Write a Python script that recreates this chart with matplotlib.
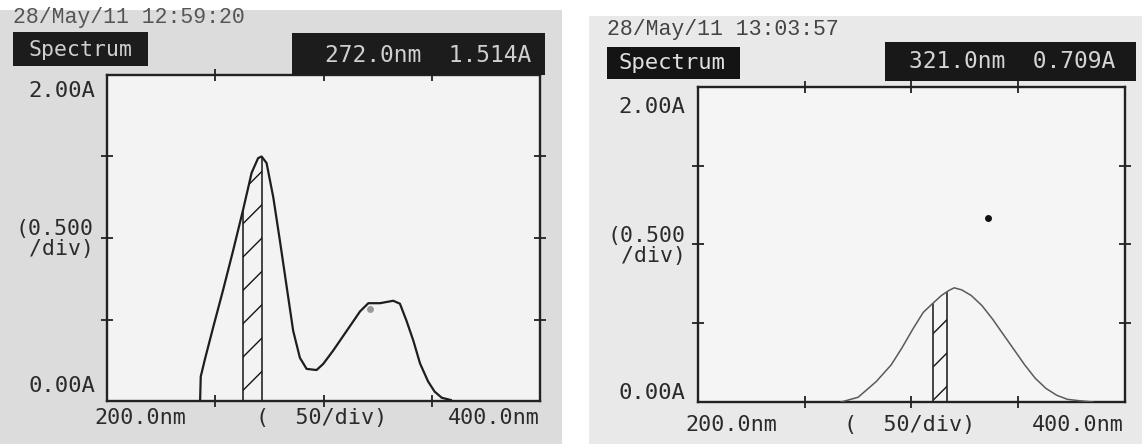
import numpy as np
import matplotlib.pyplot as plt
from matplotlib.patches import Rectangle

# size of the picture in pixels
W, H = 1142, 444

# spectrum 1 (left screen)
left_nm = [243, 243.3, 245.3, 249, 253.6, 258.2, 262.8, 266.8, 269.8, 271.4, 273.7,
           276.8, 279.9, 283, 286, 289.1, 292.2, 296.8, 299.9, 304.5, 310.7, 316.9,
           320.7, 326.1, 332.2, 335.3, 338.4, 341.5, 344.6, 348.3, 351.3, 354.6, 358.8]
left_abs = [0.0, 0.15, 0.26, 0.45, 0.68, 0.92, 1.17, 1.40, 1.49, 1.50, 1.46,
            1.25, 0.98, 0.70, 0.43, 0.265, 0.197, 0.19, 0.228, 0.31, 0.43, 0.55,
            0.60, 0.60, 0.615, 0.597, 0.49, 0.37, 0.23, 0.12, 0.058, 0.02, 0.006]
left_hatch = [262.8, 271.6]
left_date = '28/May/11 12:59:20'
left_cursor = '272.0nm  1.514A'
left_speck = [321.5, 0.563]

# spectrum 2 (right screen)
right_nm = [267, 275, 283.5, 290.5, 295.5, 300.5, 305.5, 310.5, 314, 317.5, 320, 323.5,
            328, 333, 338, 343, 348, 353, 358, 363, 368, 373, 378, 385]
right_abs = [0.0, 0.03, 0.13, 0.236, 0.343, 0.46, 0.569, 0.633, 0.676, 0.708, 0.725, 0.712,
             0.676, 0.612, 0.526, 0.429, 0.333, 0.236, 0.15, 0.086, 0.043, 0.017, 0.009, 0.0]
right_hatch = [310.3, 316.6]
right_date = '28/May/11 13:03:57'
right_cursor = '321.0nm  0.709A'
right_speck = [335.6, 1.17]

x_ticks = [250, 300, 350]
y_ticks = [0.5, 1.0, 1.5]
mono = 'DejaVu Sans Mono'


def frac_box(x0, y0, x1, y1):
    return [x0 / W, 1 - y1 / H, (x1 - x0) / W, (y1 - y0) / H]


def put_box(fig, x0, y0, x1, y1, color, z):
    fig.patches.append(Rectangle((x0 / W, 1 - y1 / H), (x1 - x0) / W, (y1 - y0) / H,
                                 transform=fig.transFigure, facecolor=color,
                                 edgecolor='none', zorder=z))


def put_text(fig, x, y, s, size, ha='center', color='#2b2b2b', family=mono):
    fig.text(x / W, 1 - y / H, s, ha=ha, va='center', fontsize=size,
             color=color, family=family, linespacing=0.95)


def draw_panel(fig, box, nm, absorb, hatch, speck, speck_color, lc, lw, face):
    ax = fig.add_axes(frac_box(*box))
    ax.set_facecolor(face)
    ax.plot(nm, absorb, color=lc, lw=lw, zorder=3)

    # cursor band under the curve
    xs = np.linspace(hatch[0], hatch[1], 60)
    ys = np.interp(xs, nm, absorb)
    ax.fill_between(xs, 0, ys, facecolor='none', edgecolor='#151515', hatch='/', linewidth=0)
    ax.vlines(hatch, 0, np.interp(hatch, nm, absorb), color='#151515', lw=1.1)

    ax.plot([speck[0]], [speck[1]], 'o', color=speck_color, ms=5, mec='none')

    ax.set_xlim(200, 400)
    ax.set_ylim(0, 2)
    ax.set_xticks(x_ticks)
    ax.set_yticks(y_ticks)
    ax.tick_params(direction='inout', length=9, width=1.3, color='#222',
                   top=True, right=True, labelbottom=False, labelleft=False)
    for s in ax.spines.values():
        s.set_linewidth(1.7)
        s.set_color('#222')
    return ax


fig = plt.figure(figsize=(W / 100, H / 100), dpi=100)
fig.patch.set_facecolor('white')

# paper backgrounds of the two scans
put_box(fig, 0, 10, 562, 444, '#dcdcdc', -2)
put_box(fig, 589, 16, 1142, 444, '#e9e9e9', -2)

# ---- left screen
draw_panel(fig, (107, 75, 540, 401), left_nm, left_abs, left_hatch, left_speck, '#9a9a9a',
           '#1e1e1e', 1.6, '#f3f3f3')
put_text(fig, 13, 17, left_date, 15.5, ha='left', color='#555', family='Liberation Mono')
put_box(fig, 13, 32, 148, 66, '#1c1c1c', 1)
put_text(fig, 80, 50, 'Spectrum', 15.5, color='#cfcfcf')
put_box(fig, 292, 33, 545, 75, '#1c1c1c', 1)
put_text(fig, 428, 56, left_cursor, 16.5, color='#cfcfcf')
put_text(fig, 95, 91, '2.00A', 16, ha='right')
put_text(fig, 55, 239, '(0.500\n /div)', 15.5)
put_text(fig, 95, 386, '0.00A', 16, ha='right')
put_text(fig, 140, 418, '200.0nm', 15.7)
put_text(fig, 322, 418, '(  50/div)', 15.7)
put_text(fig, 494, 418, '400.0nm', 15.7)

# ---- right screen
draw_panel(fig, (698, 87, 1125, 402), right_nm, right_abs, right_hatch, right_speck, '#111',
           '#5a5a5a', 1.1, '#f5f5f5')
put_text(fig, 607, 29, right_date, 15.5, ha='left', color='#444', family='Liberation Mono')
put_box(fig, 607, 47, 740, 79, '#141414', 1)
put_text(fig, 672, 63, 'Spectrum', 16, color='#e0e0e0')
put_box(fig, 885, 42, 1136, 81, '#181818', 1)
put_text(fig, 1012, 62, right_cursor, 16.5, color='#d5d5d5')
put_text(fig, 685, 107, '2.00A', 16, ha='right')
put_text(fig, 647, 246, '(0.500\n /div)', 15.5)
put_text(fig, 685, 393, '0.00A', 16, ha='right')
put_text(fig, 731, 425, '200.0nm', 15.7)
put_text(fig, 910, 425, '(  50/div)', 15.7)
put_text(fig, 1078, 425, '400.0nm', 15.7)

fig.savefig('out.png', dpi=100, facecolor=fig.get_facecolor())
